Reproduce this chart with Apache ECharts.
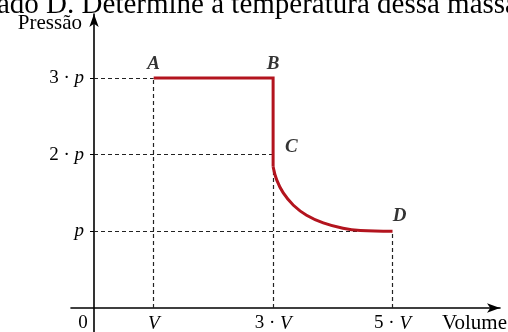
<!DOCTYPE html>
<html>
<head>
<meta charset="utf-8">
<script src="https://cdn.jsdelivr.net/npm/echarts@6/dist/echarts.min.js"></script>
<style>
  html, body { margin: 0; padding: 0; background: #fff; }
  #chart { width: 508px; height: 332px; }
</style>
</head>
<body>
<div id="chart"></div>
<script>
// dados do diagrama p x V
var headerText = 'ado D. Determine a temperatura dessa massa';
var xTickValues = [0, 1, 3, 5];
var xTickLabels = ['0', 'V', '3 · V', '5 · V'];
var yTickValues = [1, 2, 3];
var yTickLabels = ['p', '2 · p', '3 · p'];
// trecho A -> B -> C (retas)
var abcV = [1, 3, 3];
var abcP = [3, 3, 1.84];
// trecho C -> D (curva)
var curveV = [3, 3.06, 3.17, 3.34, 3.56, 3.84, 4.17, 4.46, 5];
var curveP = [1.84, 1.67, 1.5, 1.34, 1.21, 1.11, 1.04, 1.01, 1];
// pontos nomeados
var pointNames = ['A', 'B', 'C', 'D'];
var pointV = [1, 3, 3, 5];
var pointP = [3, 3, 2, 1];
// linhas tracejadas de referencia
var guides = [
  [[0, 3], [1, 3]],
  [[1, 0], [1, 3]],
  [[0, 2], [3, 2]],
  [[3, 0], [3, 1.84]],
  [[0, 1], [5, 1]],
  [[5, 0], [5, 1]]
];

var serif = '"Liberation Serif", "Times New Roman", serif';
var ink = '#000';
var red = '#b3141e';

function zip(a, b) {
  return a.map(function (v, i) { return [v, b[i]]; });
}

var chart = echarts.init(document.getElementById('chart'));

var option = {
  animation: false,
  backgroundColor: '#fff',
  graphic: [
    {
      type: 'text',
      left: -3,
      top: -9,
      style: { text: headerText, font: '29px ' + serif, fill: '#000' }
    }
  ],
  grid: { left: 71, right: 8, top: 14, bottom: 0, containLabel: false, outerBoundsMode: 'none' },
  xAxis: {
    type: 'value',
    min: -0.385,
    max: 6.8,
    offset: -24,
    name: 'Volume',
    nameLocation: 'end',
    nameGap: 7,
    nameTextStyle: { fontFamily: serif, fontSize: 21, color: ink, align: 'right', verticalAlign: 'top', padding: [5, 0, 0, 0] },
    axisLine: { onZero: false, symbol: ['none', 'arrow'], symbolSize: [7, 13], lineStyle: { color: ink, width: 1.6 } },
    axisTick: { show: false },
    splitLine: { show: false },
    axisLabel: {
      customValues: xTickValues,
      margin: 6,
      fontFamily: serif,
      fontSize: 19,
      color: ink,
      formatter: function (v) {
        var s = xTickLabels[xTickValues.indexOf(v)];
        if (v === 0) return '{z|' + s + '}';
        return s.replace('V', '{i|V}');
      },
      rich: {
        i: { fontFamily: serif, fontSize: 19, fontStyle: 'italic', color: ink },
        z: { fontFamily: serif, fontSize: 19, color: ink, padding: [0, 22, 0, 0] }
      }
    }
  },
  yAxis: {
    type: 'value',
    min: -0.313,
    max: 3.833,
    offset: -23,
    name: 'Pressão',
    nameLocation: 'end',
    nameGap: -9,
    nameTextStyle: { fontFamily: serif, fontSize: 21, color: ink, align: 'right', verticalAlign: 'middle', padding: [0, 12, 0, 0] },
    axisLine: { onZero: false, symbol: ['none', 'arrow'], symbolSize: [7, 13], lineStyle: { color: ink, width: 1.6 } },
    axisTick: { customValues: yTickValues, length: 4, lineStyle: { color: ink } },
    splitLine: { show: false },
    axisLabel: {
      customValues: yTickValues,
      margin: 10,
      fontFamily: serif,
      fontSize: 19,
      color: ink,
      formatter: function (v) {
        return yTickLabels[yTickValues.indexOf(v)].replace('p', '{i|p}');
      },
      rich: {
        i: { fontFamily: serif, fontSize: 19, fontStyle: 'italic', color: ink }
      }
    }
  },
  series: [
    {
      type: 'lines',
      coordinateSystem: 'cartesian2d',
      silent: true,
      lineStyle: { color: '#222', width: 1.2, type: [4, 3], opacity: 1 },
      data: guides.map(function (g) { return { coords: g }; }),
      z: 1
    },
    {
      type: 'line',
      data: zip(abcV, abcP),
      symbol: 'none',
      lineStyle: { color: red, width: 3, join: 'miter' },
      z: 3
    },
    {
      type: 'line',
      data: zip(curveV, curveP),
      symbol: 'none',
      smooth: 0.4,
      lineStyle: { color: red, width: 3 },
      z: 3
    },
    {
      type: 'scatter',
      symbolSize: 0,
      silent: true,
      data: pointNames.map(function (n, i) {
        var lab = { position: 'top', distance: 4 };
        if (n === 'C') lab = { position: 'right', distance: 12, offset: [0, -7] };
        if (n === 'D') lab = { position: 'top', distance: 6, offset: [7, 0] };
        return { name: n, value: [pointV[i], pointP[i]], label: lab };
      }),
      label: {
        show: true,
        formatter: '{b}',
        fontFamily: serif,
        fontSize: 19,
        fontStyle: 'italic',
        fontWeight: 'bold',
        color: ink
      },
      z: 4
    }
  ]
};

chart.setOption(option);
</script>
</body>
</html>
